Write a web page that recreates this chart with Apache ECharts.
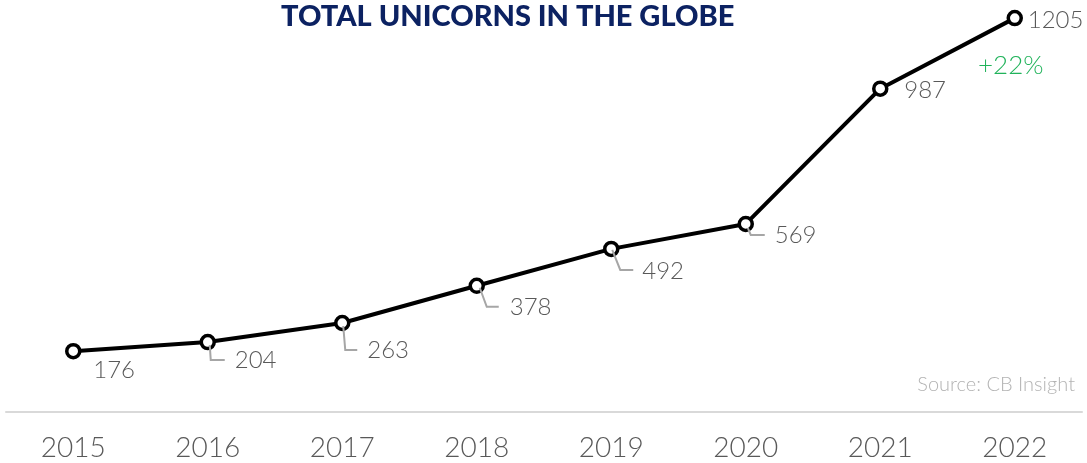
<!DOCTYPE html>
<html>
<head>
<meta charset="utf-8">
<script src="https://cdn.jsdelivr.net/npm/echarts@6/dist/echarts.min.js"></script>
<style>
html,body{margin:0;padding:0;background:#fff;}
#chart{width:1087px;height:463px;}
</style>
</head>
<body>
<div id="chart"></div>
<script>
// ---- data ----
const chartTitle = 'TOTAL UNICORNS IN THE GLOBE';
const years = ['2015', '2016', '2017', '2018', '2019', '2020', '2021', '2022'];
const unicorns = [176, 204, 263, 378, 492, 569, 987, 1205];
const growthNote = '+22%';
const sourceNote = 'Source: CB Insight';

// ---- label placement (pixels relative to each point) ----
const labelPlacements = [
  { label: [20, 19], leader: null },
  { label: [27, 18], leader: [[2, 3], [3, 18], [17, 18]] },
  { label: [25, 27], leader: [[1, 3], [3, 27], [15, 27]] },
  { label: [33, 21], leader: [[3, 2], [10, 21], [22, 21]] },
  { label: [31, 22], leader: [[1, 1], [9, 21], [22, 21]] },
  { label: [29, 11], leader: [[2, 4], [5, 11], [19, 11]] },
  { label: [24, 2], leader: null },
  { label: [13, 2], leader: null }
];

const FONT = 'Lato';
const chart = echarts.init(document.getElementById('chart'), null, { renderer: 'canvas' });

chart.setOption({
  animation: false,
  backgroundColor: '#ffffff',
  title: {
    text: chartTitle,
    left: 276,
    top: -3,
    textStyle: { fontFamily: FONT, fontWeight: 900, fontSize: 29, color: '#0c2262' }
  },
  grid: { left: 6, right: 5, top: 0, bottom: 51, containLabel: false },
  xAxis: {
    type: 'category',
    data: years,
    boundaryGap: true,
    axisLine: { show: true, onZero: false, lineStyle: { color: '#d9d9d9', width: 2 } },
    axisTick: { show: false },
    axisLabel: { color: '#595959', fontSize: 28, fontFamily: FONT, fontWeight: 300, margin: 22 },
    splitLine: { show: false }
  },
  yAxis: {
    type: 'value',
    min: -12,
    max: 1261,
    show: false,
    splitLine: { show: false }
  },
  graphic: [
    {
      type: 'text',
      right: 12,
      top: 375,
      style: { text: sourceNote, fill: '#b3b3b3', fontSize: 20, fontFamily: FONT, fontWeight: 300 }
    },
    {
      type: 'text',
      left: 978,
      top: 53,
      style: { text: growthNote, fill: '#21b35b', fontSize: 26, fontFamily: FONT, fontWeight: 300 }
    }
  ],
  series: [
    {
      type: 'line',
      data: unicorns.map((v, i) => ({ value: v, label: { offset: labelPlacements[i].label } })),
      lineStyle: { color: '#000000', width: 4 },
      symbol: 'circle',
      symbolSize: 13,
      itemStyle: { color: '#ffffff', borderColor: '#000000', borderWidth: 3.5 },
      z: 3,
      label: {
        show: true,
        position: 'inside',
        align: 'left',
        verticalAlign: 'middle',
        color: '#595959',
        fontSize: 24,
        fontFamily: FONT,
        fontWeight: 300
      }
    },
    {
      type: 'custom',
      silent: true,
      z: 5,
      data: unicorns.map((v, i) => [i, v]),
      renderItem: function (params, api) {
        const p = labelPlacements[params.dataIndex];
        if (!p.leader) return null;
        const c = api.coord([api.value(0), api.value(1)]);
        return {
          type: 'polyline',
          shape: { points: p.leader.map(d => [c[0] + d[0], c[1] + d[1]]) },
          style: { stroke: '#a6a6a6', lineWidth: 2, fill: null }
        };
      }
    }
  ]
});
</script>
</body>
</html>
